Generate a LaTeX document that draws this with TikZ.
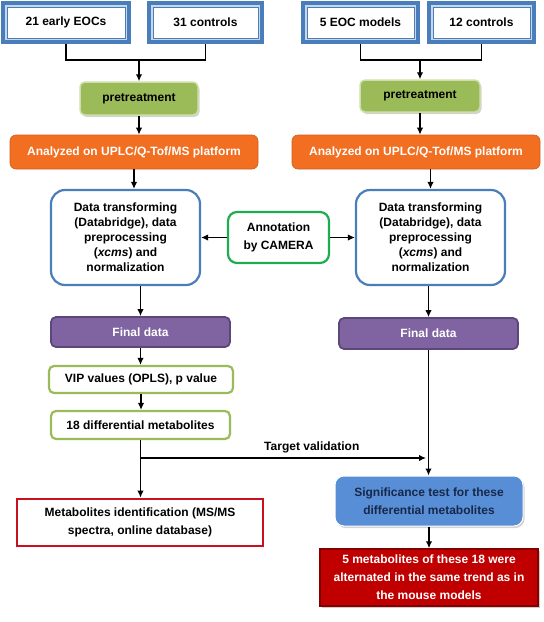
\documentclass[tikz,border=0pt]{standalone}
\usepackage{fontspec}
\setmainfont{Liberation Sans}
\usetikzlibrary{shadows,arrows.meta}
\definecolor{bluec}{RGB}{74,126,187}
\definecolor{lightbl}{RGB}{200,216,236}
\definecolor{pregreen}{RGB}{155,187,89}
\definecolor{prebord}{RGB}{205,222,170}
\definecolor{orangec}{RGB}{242,110,33}
\definecolor{purplec}{RGB}{128,100,162}
\definecolor{purpleb}{RGB}{92,71,122}
\definecolor{oliveg}{RGB}{155,187,89}
\definecolor{camg}{RGB}{30,172,80}
\definecolor{redb}{RGB}{200,16,30}
\definecolor{sigblue}{RGB}{88,142,213}
\definecolor{navy}{RGB}{23,40,75}
\definecolor{redc}{RGB}{192,0,0}
\definecolor{darkred}{RGB}{130,0,0}
\begin{document}
\begin{tikzpicture}[x=1pt,y=-1pt,
  font=\fontsize{12}{15}\selectfont\bfseries,
  base/.style={rectangle, align=center, inner sep=2pt},
  dbox/.style={base, draw=bluec, line width=3.5pt, fill=lightbl,
    path picture={\draw[bluec, line width=1pt, fill=white]
      ([shift={(4pt,-4pt)}]path picture bounding box.north west) rectangle
      ([shift={(-4pt,4pt)}]path picture bounding box.south east);}},
  prebox/.style={base, fill=pregreen, draw=prebord, line width=1.5pt, rounded corners=5pt,
    drop shadow={shadow xshift=1.5pt, shadow yshift=-2pt, opacity=0.35}},
  obox/.style={base, fill=orangec, draw=orangec!85!black, line width=0.6pt, rounded corners=6pt, text=white},
  dtbox/.style={base, draw=bluec, line width=2.2pt, rounded corners=14pt, fill=white},
  finbox/.style={base, fill=purplec, draw=purpleb, line width=1.8pt, rounded corners=5pt, text=white},
  gbox/.style={base, draw=oliveg, line width=2.2pt, rounded corners=5pt, fill=white},
  cambox/.style={base, draw=camg, line width=2.2pt, rounded corners=9pt, fill=white},
  midbox/.style={base, draw=redb, line width=2.8pt, fill=white, font=\fontsize{12}{18}\selectfont\bfseries},
  sigbox/.style={base, fill=sigblue, draw=white, line width=1pt, rounded corners=9pt, text=navy,
    font=\fontsize{12}{18}\selectfont\bfseries,
    drop shadow={shadow xshift=1.5pt, shadow yshift=-2pt, opacity=0.35}},
  redbox/.style={base, fill=redc, draw=darkred, line width=1.5pt, text=white,
    font=\fontsize{12}{18}\selectfont\bfseries,
    drop shadow={shadow xshift=2pt, shadow yshift=-2pt, opacity=0.4}},
  ln/.style={line width=1.7pt},
  arr/.style={line width=1.7pt, -{Latex[length=7pt,width=6.5pt]}}
]
\useasboundingbox (0,0) rectangle (544,622);
% left column
\node[dbox, minimum width=126, minimum height=39] (e21) at (66,22.5) {21 early EOCs};
\node[dbox, minimum width=113, minimum height=39] (c31) at (205.5,22.5) {31 controls};
\node[prebox, minimum width=118, minimum height=33] (pre1) at (139,98.5) {pretreatment};
\node[obox, minimum width=248, minimum height=34] (uplc1) at (134,152) {Analyzed on UPLC/Q-Tof/MS platform};
\node[dtbox, minimum width=149, minimum height=95] (dt1) at (125.5,237.5)
  {Data transforming\\(Databridge), data\\preprocessing\\(\textit{xcms}) and\\normalization};
\node[finbox, minimum width=179, minimum height=30] (fd1) at (140.5,332) {Final data};
\node[gbox, minimum width=184, minimum height=27] (vip) at (141,379.5) {VIP values (OPLS), p value};
\node[gbox, minimum width=179, minimum height=28] (d18) at (140.5,425) {18 differential metabolites};
\node[midbox, minimum width=246, minimum height=47] (mid) at (140,522.5)
  {Metabolites identification (MS/MS\\spectra, online database)};
% right column
\node[dbox, minimum width=115, minimum height=39] (e5) at (360.5,22.5) {5 EOC models};
\node[dbox, minimum width=105, minimum height=39] (c12) at (481.5,22.5) {12 controls};
\node[prebox, minimum width=120, minimum height=32] (pre2) at (420,96) {pretreatment};
\node[obox, minimum width=248, minimum height=34] (uplc2) at (416,152) {Analyzed on UPLC/Q-Tof/MS platform};
\node[dtbox, minimum width=149, minimum height=95] (dt2) at (430.5,237.5)
  {Data transforming\\(Databridge), data\\preprocessing\\(\textit{xcms}) and\\normalization};
\node[finbox, minimum width=179, minimum height=31] (fd2) at (428.5,333.5) {Final data};
\node[sigbox, minimum width=188, minimum height=50] (sig) at (429,501)
  {Significance test for these\\differential metabolites};
\node[redbox, minimum width=218, minimum height=57] (red) at (429,577.5)
  {5 metabolites of these 18 were\\alternated in the same trend as in\\the mouse models};
% middle
\node[cambox, minimum width=101, minimum height=51, font=\fontsize{12}{18}\selectfont\bfseries] (cam) at (278.5,237.5)
  {Annotation\\by CAMERA};
% connectors left
\coordinate (j1) at (139,60);
\draw[ln] (e21.south) |- (j1) -| (c31.south);
\draw[arr] (j1) -- (pre1.north);
\draw[arr] (pre1.south) -- (pre1.south |- uplc1.north);
\draw[arr] (uplc1.south) -- (uplc1.south |- dt1.north);
\draw[arr] (dt1.south -| fd1.north) -- (fd1.north);
\draw[arr] (fd1.south) -- (fd1.south |- vip.north);
\draw[arr] (vip.south) -- (vip.south |- d18.north);
\draw[arr] (d18.south) -- (d18.south |- mid.north);
\coordinate (tv) at (426,458);
\draw[arr] (d18.south |- tv) -- (tv) node[pos=0.6, above=1pt, text=black] {Target validation};
% connectors right
\coordinate (j2) at (420,60);
\draw[ln] (e5.south) |- (j2) -| (c12.south);
\draw[arr] (j2) -- (pre2.north);
\draw[arr] (pre2.south) -- (pre2.south |- uplc2.north);
\draw[arr] (uplc2.south -| dt2.north) -- (dt2.north);
\draw[arr] (dt2.south -| fd2.north) -- (fd2.north);
\draw[arr] (fd2.south) -- (fd2.south |- sig.north);
\draw[arr] (sig.south) -- (red.north);
% annotation arrows
\draw[arr] (cam.west) -- (cam.west -| dt1.east);
\draw[arr] (cam.east) -- (cam.east -| dt2.west);
\end{tikzpicture}
\end{document}
